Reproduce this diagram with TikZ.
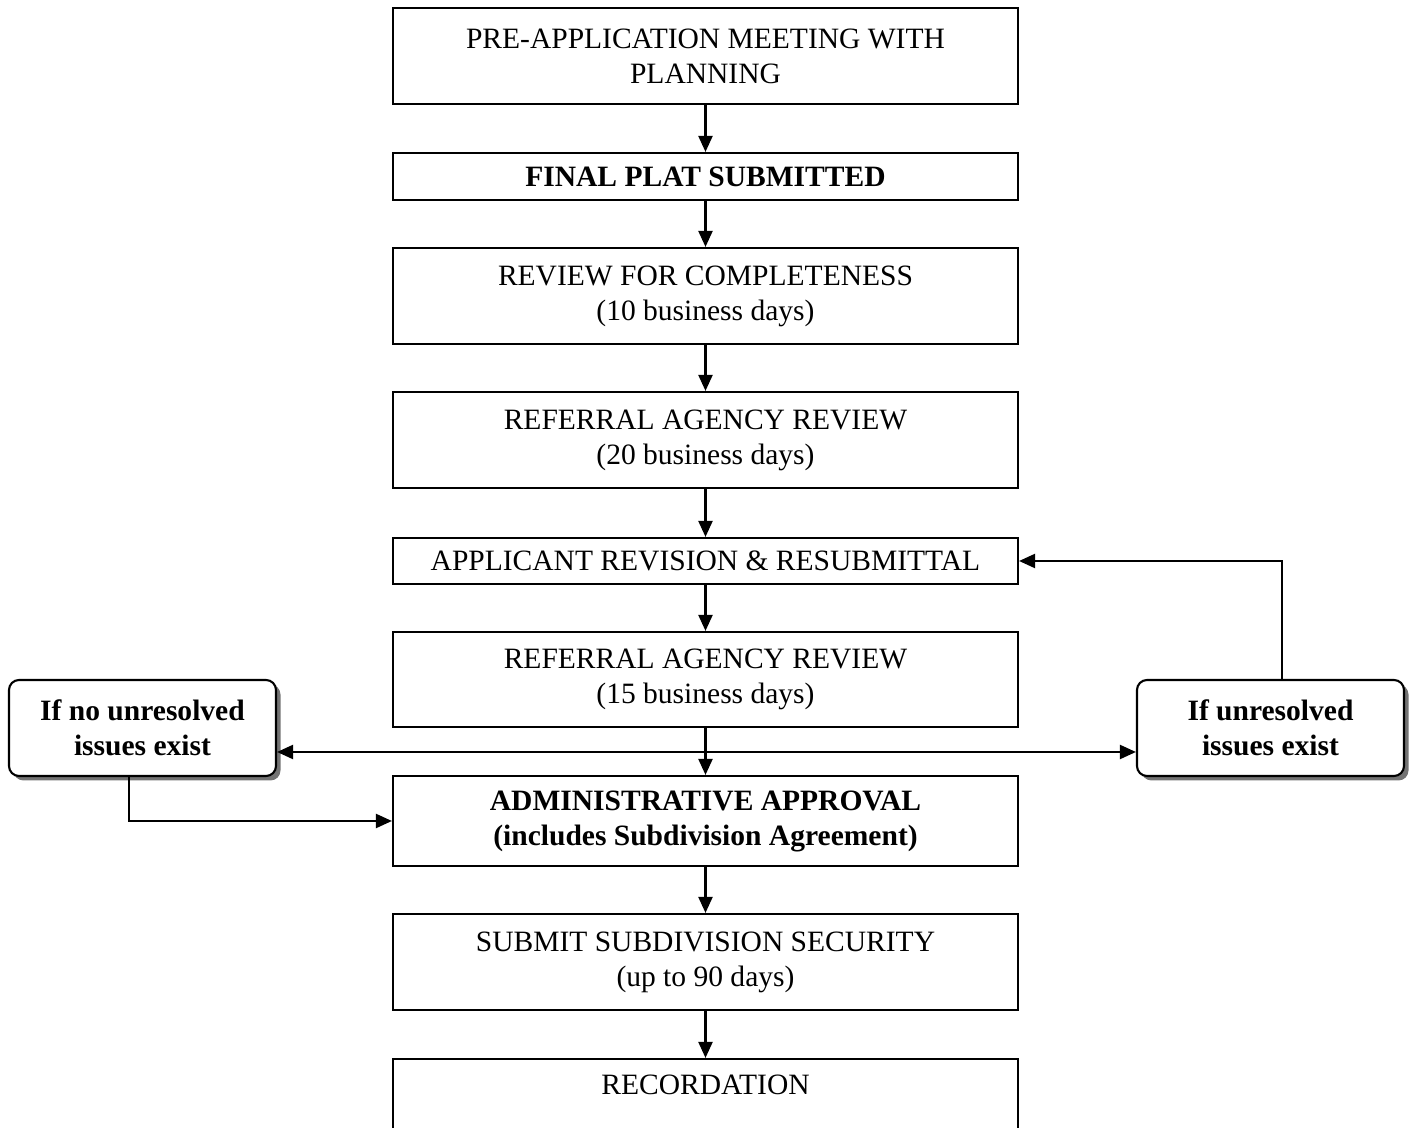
\documentclass[tikz,border=0pt]{standalone}
\usepackage{fontspec}
\setmainfont{Liberation Serif}
\usetikzlibrary{arrows.meta, shadows}

\begin{document}
\begin{tikzpicture}[
  stepbox/.style={draw, line width=0.6pt, minimum width=6.25cm, align=center, inner sep=0pt, font=\fontsize{8.4}{9.96}\selectfont},
  ifbox/.style={draw, line width=0.6pt, rounded corners=1mm, fill=white, minimum width=2.67cm, minimum height=0.96cm, align=center, inner sep=0pt, font=\fontsize{8.4}{9.96}\selectfont\bfseries, drop shadow={shadow xshift=0.45mm, shadow yshift=-0.45mm, fill=black!55, opacity=1}},
  arr/.style={-{Triangle[length=1.6mm, width=1.4mm]}, line width=0.6pt}
]
  \useasboundingbox (0,0) rectangle (14.13,11.28);

  % main column
  \node[stepbox, minimum height=0.96cm] (pre) at (7.055,10.72) {PRE-APPLICATION MEETING WITH\\PLANNING};
  \node[stepbox, minimum height=0.47cm] (final) at (7.055,9.515) {\textbf{FINAL PLAT SUBMITTED}};
  \node[stepbox, minimum height=0.96cm] (review) at (7.055,8.32) {REVIEW FOR COMPLETENESS\\(10 business days)};
  \node[stepbox, minimum height=0.96cm] (referral1) at (7.055,6.88) {REFERRAL AGENCY REVIEW\\(20 business days)};
  \node[stepbox, minimum height=0.46cm] (applicant) at (7.055,5.67) {APPLICANT REVISION \& RESUBMITTAL};
  \node[stepbox, minimum height=0.95cm] (referral2) at (7.055,4.485) {REFERRAL AGENCY REVIEW\\(15 business days)};
  \node[stepbox, minimum height=0.90cm] (admin) at (7.055,3.07) {\textbf{ADMINISTRATIVE APPROVAL}\\\textbf{(includes Subdivision Agreement)}};
  \node[stepbox, minimum height=0.96cm] (security) at (7.055,1.66) {SUBMIT SUBDIVISION SECURITY\\(up to 90 days)};
  \node[stepbox, minimum height=0.96cm] (record) at (7.055,0.21) {RECORDATION\\\strut};

  % side decisions
  \node[ifbox] (noissue) at (1.425,4.00) {If no unresolved\\issues exist};
  \node[ifbox] (issue) at (12.705,4.00) {If unresolved\\issues exist};

  \draw[arr] (pre) -- (final);
  \draw[arr] (final) -- (review);
  \draw[arr] (review) -- (referral1);
  \draw[arr] (referral1) -- (applicant);
  \draw[arr] (applicant) -- (referral2);
  \draw[arr] (referral2) -- (admin);
  \draw[arr] (admin) -- (security);
  \draw[arr] (security) -- (record);

  \coordinate (split) at (7.055,3.76);
  \draw[arr] (split) -- (noissue.east |- split);
  \draw[arr] (split) -- (issue.west |- split);
  \draw[arr] ([xshift=-1.35mm]noissue.south) |- (admin.west);
  \draw[arr] ([xshift=1.15mm]issue.north) |- (applicant.east);
\end{tikzpicture}
\end{document}
